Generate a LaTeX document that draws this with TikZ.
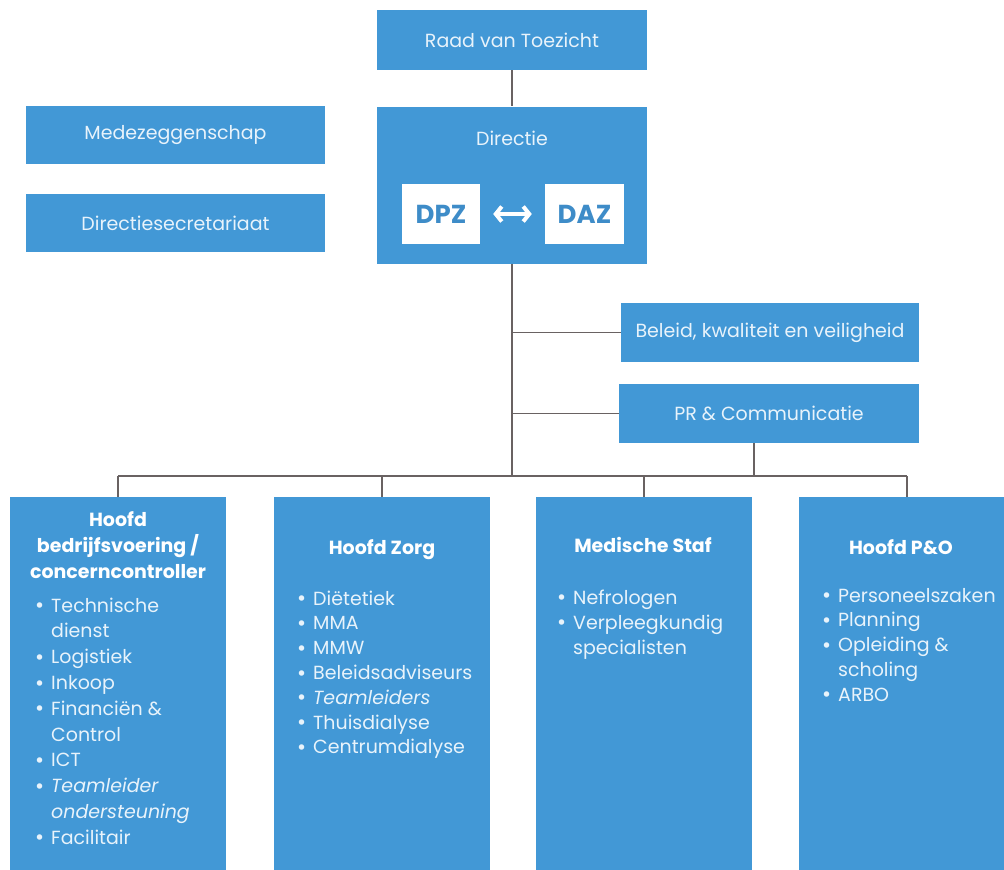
\documentclass[tikz,border=0pt]{standalone}
\usepackage{fontspec}
\setmainfont{Poppins}
\usetikzlibrary{arrows.meta}
\definecolor{boxblue}{RGB}{66,152,214}
\definecolor{txtlight}{RGB}{232,243,251}
\definecolor{daztext}{RGB}{62,140,200}
\definecolor{linegray}{RGB}{105,98,98}
\newcommand\bul{\makebox[16pt][l]{\raisebox{0.3pt}{\fontsize{18}{18}\selectfont\bfseries •}}}
\newcommand\ind{\hspace*{16pt}}
\tikzset{
  box/.style={fill=boxblue, inner sep=0pt, text=txtlight, font=\fontsize{19}{22}\selectfont},
  whitebox/.style={fill=white, inner sep=0pt, text=daztext, font=\fontsize{26}{28}\selectfont\bfseries},
  conn/.style={draw=linegray, line width=1.3pt},
  head/.style={inner sep=0pt, text=white, anchor=base, font=\bfseries},
  items/.style={inner sep=0pt, text=txtlight, anchor=base west},
}
\begin{document}
\begin{tikzpicture}[x=1pt,y=-1pt]
\useasboundingbox (0,0) rectangle (1004,870);
\fill[white] (0,0) rectangle (1004,870);
% top boxes
\node[box, minimum width=270, minimum height=60] (rvt) at (512,40) {Raad van Toezicht};
\node[box, minimum width=270, minimum height=157] (dir) at (512,185) {};
\node[inner sep=0pt, text=txtlight, font=\fontsize{19}{22}\selectfont] (dirtxt) at (512,138) {Directie};
\node[whitebox, minimum width=78, minimum height=60] (dpz) at (441,214) {DPZ};
\node[whitebox, minimum width=79, minimum height=60] (daz) at (584.5,214) {DAZ};
\draw[white, line width=4pt, {Straight Barb[length=6pt,width=15pt]}-{Straight Barb[length=6pt,width=15pt]}, shorten <=13pt, shorten >=13pt] (dpz) -- (daz);
\node[box, minimum width=299, minimum height=58] (mede) at (175.5,135) {Medezeggenschap};
\node[box, minimum width=299, minimum height=58] (dsec) at (175.5,223) {Directiesecretariaat};
\node[box, minimum width=298, minimum height=59] (bel) at (770,332.5) {Beleid, kwaliteit en veiligheid};
\node[box, minimum width=300, minimum height=59] (pr) at (769,413.5) {PR \& Communicatie};
% bottom boxes
\node[box, minimum width=216, minimum height=373] (b1) at (118,683.5) {};
\node[box, minimum width=216, minimum height=373] (b2) at (382,683.5) {};
\node[box, minimum width=216, minimum height=373] (b3) at (644,683.5) {};
\node[box, minimum width=216, minimum height=373] (b4) at (907,683.5) {};
\coordinate (bus) at (512,476);
% connectors
\draw[conn] (rvt.south) -- (dir.north);
\draw[conn] (dir.south) -- (bus);
\draw[conn] (dir.south |- bel.west) -- (bel.west);
\draw[conn] (dir.south |- pr.west) -- (pr.west);
\draw[conn] ([xshift=-15pt]pr.south) -- ([xshift=-15pt]pr.south |- bus);
\draw[conn] (b1.north |- bus) -- (b4.north |- bus);
\draw[conn] (b1.north |- bus) -- (b1.north);
\draw[conn] (b2.north |- bus) -- (b2.north);
\draw[conn] (b3.north |- bus) -- (b3.north);
\draw[conn] (b4.north |- bus) -- (b4.north);
% headings
\node[head] (h1) at (118,526) {\fontsize{19}{26}\selectfont\begin{tabular}[t]{@{}c@{}}Hoofd\\bedrijfsvoering /\\concerncontroller\end{tabular}};
\node[head] (h2) at (382,554) {\fontsize{19}{22}\selectfont Hoofd Zorg};
\node[head] (h3) at (643,552) {\fontsize{19}{22}\selectfont Medische Staf};
\node[head] (h4) at (901,554) {\fontsize{19}{22}\selectfont Hoofd P\&O};
% item lists
\node[items] (l1) at (35,612) {\fontsize{19}{25.8}\selectfont\begin{tabular}[t]{@{}l@{}}
\bul Technische\\ \ind dienst\\ \bul Logistiek\\ \bul Inkoop\\ \bul Financiën \&\\ \ind Control\\ \bul ICT\\ \bul \textit{Teamleider}\\ \ind \textit{ondersteuning}\\ \bul Facilitair
\end{tabular}};
\node[items] (l2) at (297,605) {\fontsize{19}{24.8}\selectfont\begin{tabular}[t]{@{}l@{}}
\bul Diëtetiek\\ \bul MMA\\ \bul MMW\\ \bul Beleidsadviseurs\\ \bul \textit{Teamleiders}\\ \bul Thuisdialyse\\ \bul Centrumdialyse
\end{tabular}};
\node[items] (l3) at (557,604) {\fontsize{19}{25}\selectfont\begin{tabular}[t]{@{}l@{}}
\bul Nefrologen\\ \bul Verpleegkundig\\ \ind specialisten
\end{tabular}};
\node[items] (l4) at (822,602) {\fontsize{19}{24.75}\selectfont\begin{tabular}[t]{@{}l@{}}
\bul Personeelszaken\\ \bul Planning\\ \bul Opleiding \&\\ \ind scholing\\ \bul ARBO
\end{tabular}};
\end{tikzpicture}
\end{document}
